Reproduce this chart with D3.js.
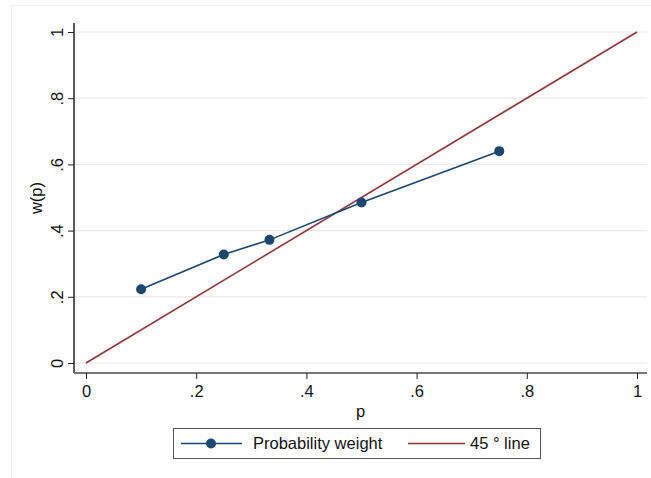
<!DOCTYPE html>
<html><head><meta charset="utf-8">
<script src="https://cdn.jsdelivr.net/npm/d3@7"></script>
<style>body{margin:0;background:#fff;} text{font-family:Arial,"Liberation Sans",sans-serif;fill:#111;}</style>
</head><body>
<svg id="c" width="651" height="478"></svg>
<script>
const pValues = [0.1, 0.25, 0.333, 0.5, 0.75];
const wValues = [0.223, 0.328, 0.372, 0.485, 0.640];
const lineP = [0, 1];
const lineW = [0, 1];
const xTicks = [0, 0.2, 0.4, 0.6, 0.8, 1];
const yTicks = [0, 0.2, 0.4, 0.6, 0.8, 1];
const fmt = d => d === 0 ? "0" : d === 1 ? "1" : String(d).replace(/^0/, "");
const FS = 16.5;

const svg = d3.select("#c");
svg.append("rect").attr("x",11.5).attr("y",5.5).attr("width",660).attr("height",490)
  .attr("fill","#fff").attr("stroke","#f0f0f0");

const L = 74, R = 647, T = 23, B = 373;
const x = d3.scaleLinear().domain([0,1]).range([86,637]);
const y = d3.scaleLinear().domain([0,1]).range([363,32]);

// gridlines
svg.append("g").selectAll("line").data(yTicks).join("line")
  .attr("x1",L).attr("x2",R).attr("y1",d=>y(d)).attr("y2",d=>y(d))
  .attr("stroke","#eaeaea").attr("stroke-width",1.2);

// y axis
const yAxis = svg.append("g").attr("transform",`translate(${L},0)`)
  .call(d3.axisLeft(y).tickValues(yTicks).tickFormat(fmt).tickSize(6).tickPadding(5));
yAxis.select(".domain").attr("d",`M0,${T}V${B}`).attr("stroke","#222").attr("stroke-width",1.5);
yAxis.selectAll(".tick line").attr("stroke","#222");
yAxis.selectAll(".tick text").attr("font-size",FS).attr("fill","#111")
  .attr("transform","rotate(-90)").attr("x",0).attr("y",-11).attr("dy",0)
  .attr("text-anchor","middle");

// x axis
const xAxis = svg.append("g").attr("transform",`translate(0,${B})`)
  .call(d3.axisBottom(x).tickValues(xTicks).tickFormat(fmt).tickSize(6).tickPadding(6));
xAxis.select(".domain").attr("d",`M${L},0H${R}`).attr("stroke","#777").attr("stroke-width",2);
xAxis.selectAll(".tick line").attr("stroke","#222");
xAxis.selectAll(".tick text").attr("font-size",FS).attr("fill","#111");

// axis titles
svg.append("text").attr("transform",`translate(36,${(T+B)/2}) rotate(-90)`)
  .attr("text-anchor","middle").attr("font-size",FS).attr("dy","0.35em").text("w(p)");
svg.append("text").attr("x",(L+R)/2).attr("y",411).attr("text-anchor","middle")
  .attr("font-size",FS).attr("dy","0.35em").text("p");

// 45 degree line
const line = d3.line().x(d=>x(d[0])).y(d=>y(d[1]));
svg.append("path").datum(lineP.map((p,i)=>[p,lineW[i]])).attr("d",line)
  .attr("fill","none").attr("stroke","#90353b").attr("stroke-width",1.6);

// probability weight
const pw = pValues.map((p,i)=>[p,wValues[i]]);
svg.append("path").datum(pw).attr("d",line)
  .attr("fill","none").attr("stroke","#1a476f").attr("stroke-width",1.6);
svg.append("g").selectAll("circle").data(pw).join("circle")
  .attr("cx",d=>x(d[0])).attr("cy",d=>y(d[1])).attr("r",5).attr("fill","#1a476f");

// legend
const lg = svg.append("g");
lg.append("rect").attr("x",173.5).attr("y",428.5).attr("width",367).attr("height",30)
  .attr("fill","#fff").attr("stroke","#555").attr("stroke-width",1);
lg.append("line").attr("x1",181).attr("x2",242).attr("y1",443.5).attr("y2",443.5)
  .attr("stroke","#1a476f").attr("stroke-width",1.6);
lg.append("circle").attr("cx",211).attr("cy",443.5).attr("r",5).attr("fill","#1a476f");
lg.append("text").attr("x",253).attr("y",443.5).attr("dy","0.35em").attr("font-size",FS).text("Probability weight");
lg.append("line").attr("x1",408).attr("x2",465).attr("y1",443.5).attr("y2",443.5)
  .attr("stroke","#90353b").attr("stroke-width",1.6);
lg.append("text").attr("x",470).attr("y",443.5).attr("dy","0.35em").attr("font-size",FS).text("45 ° line");
</script>
</body></html>
